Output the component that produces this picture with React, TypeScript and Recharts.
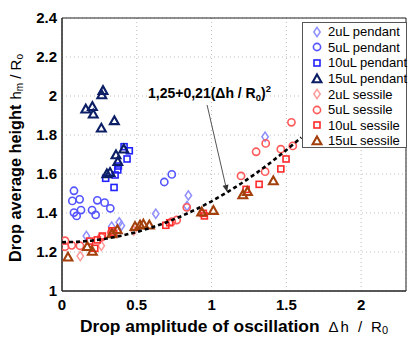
import React from "react";
import {
  CartesianGrid,
  Legend,
  ReferenceArea,
  ReferenceDot,
  ReferenceLine,
  Scatter,
  ScatterChart,
  XAxis,
  YAxis,
} from "recharts";

type Pt = { x: number; y: number };

// drop amplitude (Δh/R0) vs average height (hm/R0)
const pendant2uL: Pt[] = [
  { x: 0.163, y: 1.282 }, { x: 0.332, y: 1.33 }, { x: 0.383, y: 1.352 },
  { x: 0.397, y: 1.335 }, { x: 0.627, y: 1.396 }, { x: 0.836, y: 1.436 },
  { x: 0.845, y: 1.49 }, { x: 1.358, y: 1.791 },
];
const pendant5uL: Pt[] = [
  { x: 0.08, y: 1.514 }, { x: 0.069, y: 1.462 }, { x: 0.118, y: 1.47 },
  { x: 0.08, y: 1.402 }, { x: 0.098, y: 1.385 }, { x: 0.127, y: 1.415 },
  { x: 0.201, y: 1.415 }, { x: 0.225, y: 1.39 }, { x: 0.236, y: 1.465 },
  { x: 0.285, y: 1.453 }, { x: 0.323, y: 1.424 }, { x: 0.684, y: 1.559 },
  { x: 0.734, y: 1.598 },
];
const pendant10uL: Pt[] = [
  { x: 0.292, y: 1.578 }, { x: 0.348, y: 1.531 }, { x: 0.355, y: 1.595 },
  { x: 0.373, y: 1.621 }, { x: 0.377, y: 1.641 }, { x: 0.435, y: 1.677 },
  { x: 0.415, y: 1.74 }, { x: 0.45, y: 1.719 },
];
const pendant15uL: Pt[] = [
  { x: 0.274, y: 2.027 }, { x: 0.266, y: 2.005 }, { x: 0.159, y: 1.932 },
  { x: 0.203, y: 1.945 }, { x: 0.209, y: 1.906 }, { x: 0.35, y: 1.872 },
  { x: 0.263, y: 1.834 }, { x: 0.413, y: 1.727 }, { x: 0.361, y: 1.697 },
  { x: 0.373, y: 1.663 }, { x: 0.321, y: 1.607 }, { x: 0.3, y: 1.6 },
];
const sessile2uL: Pt[] = [
  { x: 0.122, y: 1.179 }, { x: 0.263, y: 1.232 }, { x: 0.48, y: 1.31 },
];
const sessile5uL: Pt[] = [
  { x: 0.02, y: 1.258 }, { x: 0.02, y: 1.227 }, { x: 0.065, y: 1.234 },
  { x: 0.12, y: 1.232 }, { x: 0.263, y: 1.275 }, { x: 0.33, y: 1.3 },
  { x: 0.734, y: 1.356 }, { x: 0.767, y: 1.364 }, { x: 0.834, y: 1.429 },
  { x: 1.197, y: 1.59 }, { x: 1.298, y: 1.714 }, { x: 1.362, y: 1.757 },
  { x: 1.358, y: 1.612 }, { x: 1.463, y: 1.727 }, { x: 1.543, y: 1.744 },
  { x: 1.534, y: 1.865 },
];
const sessile10uL: Pt[] = [
  { x: 0.185, y: 1.256 }, { x: 0.219, y: 1.219 }, { x: 0.236, y: 1.262 },
  { x: 0.27, y: 1.282 }, { x: 0.334, y: 1.309 }, { x: 0.346, y: 1.296 },
  { x: 0.694, y: 1.337 }, { x: 0.72, y: 1.35 }, { x: 0.945, y: 1.398 },
  { x: 0.952, y: 1.385 }, { x: 1.231, y: 1.521 }, { x: 1.318, y: 1.547 },
  { x: 1.463, y: 1.626 }, { x: 1.498, y: 1.677 },
];
const sessile15uL: Pt[] = [
  { x: 0.04, y: 1.173 }, { x: 0.169, y: 1.227 }, { x: 0.203, y: 1.202 },
  { x: 0.334, y: 1.292 }, { x: 0.37, y: 1.313 }, { x: 0.488, y: 1.33 },
  { x: 0.522, y: 1.337 }, { x: 0.544, y: 1.342 }, { x: 0.584, y: 1.337 },
  { x: 0.934, y: 1.404 }, { x: 1.012, y: 1.412 }, { x: 1.209, y: 1.492 },
  { x: 1.24, y: 1.509 }, { x: 1.413, y: 1.564 },
];

// fit printed on the figure: 1,25 + 0,21 (Δh/R0)^2
const FIT_A = 1.25;
const FIT_B = 0.21;
const fitX = [0, 0.1, 0.2, 0.3, 0.4, 0.5, 0.6, 0.7, 0.8, 0.9, 1, 1.1, 1.2, 1.3, 1.4, 1.5, 1.6];
const fitCurve: Pt[] = fitX.map((x) => ({ x, y: FIT_A + FIT_B * x * x }));

const xTicks = [0, 0.5, 1, 1.5, 2];
const yTicks = [1, 1.2, 1.4, 1.6, 1.8, 2, 2.2, 2.4];

type Kind = "diamond" | "circle" | "square" | "triangle";

const series: { name: string; data: Pt[]; kind: Kind; color: string }[] = [
  { name: "2uL pendant", data: pendant2uL, kind: "diamond", color: "#8f8fff" },
  { name: "5uL pendant", data: pendant5uL, kind: "circle", color: "#5555ff" },
  { name: "10uL pendant", data: pendant10uL, kind: "square", color: "#2222ff" },
  { name: "15uL pendant", data: pendant15uL, kind: "triangle", color: "#0b1e66" },
  { name: "2uL sessile", data: sessile2uL, kind: "diamond", color: "#ff9a9a" },
  { name: "5uL sessile", data: sessile5uL, kind: "circle", color: "#ff5a5a" },
  { name: "10uL sessile", data: sessile10uL, kind: "square", color: "#ff2a2a" },
  { name: "15uL sessile", data: sessile15uL, kind: "triangle", color: "#a3400c" },
];

const FONT = "'Liberation Sans', Arial, Helvetica, sans-serif";

function Marker({ cx, cy, kind, color }: { cx: number; cy: number; kind: Kind; color: string }) {
  if (cx == null || cy == null) return null;
  switch (kind) {
    case "diamond":
      return (
        <polygon
          points={`${cx},${cy - 4.6} ${cx + 3.2},${cy} ${cx},${cy + 4.6} ${cx - 3.2},${cy}`}
          fill="none"
          stroke={color}
          strokeWidth={1.5}
        />
      );
    case "circle":
      return <circle cx={cx} cy={cy} r={3.6} fill="none" stroke={color} strokeWidth={1.6} />;
    case "square":
      return <rect x={cx - 3} y={cy - 3} width={6} height={6} fill="none" stroke={color} strokeWidth={1.6} />;
    default:
      return (
        <polygon
          points={`${cx},${cy - 4.6} ${cx + 4.4},${cy + 3.2} ${cx - 4.4},${cy + 3.2}`}
          fill="none"
          stroke={color}
          strokeWidth={2.1}
        />
      );
  }
}

function LegendBox() {
  return (
    <div
      style={{
        width: 105,
        height: 126,
        boxSizing: "border-box",
        border: "1px solid #555",
        background: "#fff",
        paddingTop: 1,
        fontFamily: FONT,
        fontSize: 13,
        color: "#000",
      }}
    >
      {series.map((s) => (
        <div key={s.name} style={{ height: 15.6, display: "flex", alignItems: "center" }}>
          <svg width={25} height={14} style={{ flex: "none" }}>
            <Marker cx={14} cy={7} kind={s.kind} color={s.color} />
          </svg>
          <span style={{ whiteSpace: "nowrap" }}>{s.name}</span>
        </div>
      ))}
    </div>
  );
}

function ArrowShape(p: any) {
  const { x1, y1, x2, y2 } = p;
  const ang = Math.atan2(y2 - y1, x2 - x1);
  const len = 7;
  const w = 3;
  const bx = x2 - len * Math.cos(ang);
  const by = y2 - len * Math.sin(ang);
  const nx = -Math.sin(ang) * w;
  const ny = Math.cos(ang) * w;
  return (
    <g>
      <line x1={x1} y1={y1} x2={bx} y2={by} stroke="#555" strokeWidth={1} />
      <polygon points={`${x2},${y2} ${bx + nx},${by + ny} ${bx - nx},${by - ny}`} fill="#333" />
    </g>
  );
}

function FitText(p: any) {
  return (
    <text x={p.cx} y={p.cy} fontFamily={FONT} fontWeight="bold" fontSize={14} fill="#000">
      <tspan>1,25+0,21(Δh / R</tspan>
      <tspan fontSize={9.5} dy={3}>0</tspan>
      <tspan dy={-3}>)</tspan>
      <tspan fontSize={9.5} dy={-6}>2</tspan>
    </text>
  );
}

export default function App() {
  return (
    <div style={{ position: "fixed", left: 0, top: 0, width: 416, height: 343, background: "#fff", fontFamily: FONT }}>
      <ScatterChart width={416} height={343} margin={{ top: 18, right: 10, bottom: 22, left: 22 }}>
        <CartesianGrid stroke="#bdbdbd" strokeDasharray="1 3" />
        <XAxis
          type="number"
          dataKey="x"
          domain={[0, 2.3]}
          ticks={xTicks}
          allowDataOverflow
          height={30}
          tickSize={0}
          tickMargin={8}
          axisLine={{ stroke: "#222" }}
          tick={{ fill: "#000", fontSize: 15, fontWeight: "bold", fontFamily: FONT }}
          label={{
            content: (lp: any) => {
              const vb = lp.viewBox;
              return (
                <text
                  x={vb.x + vb.width / 2}
                  y={332}
                  textAnchor="middle"
                  fontFamily={FONT}
                  fontWeight="bold"
                  fontSize={17.4}
                  fill="#000"
                >
                  <tspan>Drop amplitude of oscillation</tspan>
                  <tspan fontWeight="normal" fontSize={15} dx={9}>Δ</tspan>
                  <tspan fontWeight="normal" fontSize={15} dx={2}>h</tspan>
                  <tspan fontWeight="normal" fontSize={15} dx={9}>/</tspan>
                  <tspan fontWeight="normal" fontSize={15} dx={9}>R</tspan>
                  <tspan fontWeight="normal" fontSize={11} dy={2}>0</tspan>
                </text>
              );
            },
          }}
        />
        <YAxis
          type="number"
          dataKey="y"
          domain={[1, 2.4]}
          ticks={yTicks}
          allowDataOverflow
          width={40}
          tickSize={0}
          tickMargin={5}
          axisLine={{ stroke: "#222" }}
          tickFormatter={(v: number) => String(Math.round(v * 10) / 10)}
          tick={{ fill: "#000", fontSize: 15, fontWeight: "bold", fontFamily: FONT }}
          label={{
            content: () => (
              <text
                x={21}
                y={158}
                transform="rotate(-90, 21, 158)"
                textAnchor="middle"
                fontFamily={FONT}
                fontWeight="bold"
                fontSize={16.3}
                fill="#000"
              >
                <tspan>Drop average height</tspan>
                <tspan fontWeight="normal" fontSize={15} dx={5}>h</tspan>
                <tspan fontWeight="normal" fontSize={10} dy={2}>m</tspan>
                <tspan fontWeight="normal" fontSize={15} dy={-2}> / R</tspan>
                <tspan fontWeight="normal" fontSize={10} dy={2}>o</tspan>
              </text>
            ),
          }}
        />
        <ReferenceArea x1={0} x2={2.3} y1={1} y2={2.4} fill="none" stroke="#222" strokeWidth={1} ifOverflow="visible" />
        {series.map((s) => (
          <Scatter
            key={s.name}
            name={s.name}
            data={s.data}
            isAnimationActive={false}
            shape={(p: any) => <Marker cx={p.cx} cy={p.cy} kind={s.kind} color={s.color} />}
          />
        ))}
        <Scatter
          name="fit"
          data={fitCurve}
          isAnimationActive={false}
          line={{ stroke: "#000", strokeWidth: 2.6, strokeDasharray: "4 3" }}
          shape={() => <g />}
          legendType="none"
        />
        <ReferenceLine
          segment={[{ x: 0.97, y: 1.954 }, { x: 1.104, y: 1.508 }]}
          ifOverflow="visible"
          shape={ArrowShape}
        />
        <ReferenceDot x={0.575} y={1.99} ifOverflow="visible" shape={FitText} />
        <Legend
          layout="vertical"
          align="center"
          verticalAlign="middle"
          wrapperStyle={{ left: 302, top: 22, width: 105, height: 126 }}
          content={() => <LegendBox />}
        />
      </ScatterChart>
    </div>
  );
}
